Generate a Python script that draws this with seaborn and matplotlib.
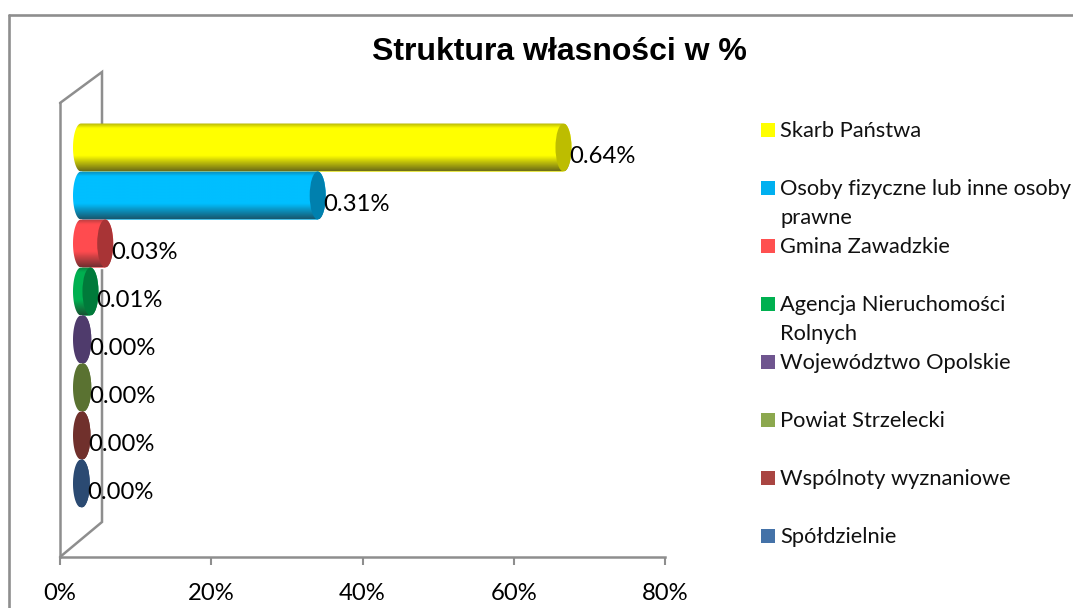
import numpy as np
import pandas as pd
import matplotlib
matplotlib.use('Agg')
import matplotlib.pyplot as plt
import seaborn as sns
from matplotlib.colors import LinearSegmentedColormap
from matplotlib.lines import Line2D
from matplotlib.patches import Ellipse, PathPatch, Rectangle
from matplotlib.path import Path

# data
categories = ['Skarb Państwa', 'Osoby fizyczne lub inne osoby\nprawne', 'Gmina Zawadzkie',
              'Agencja Nieruchomości\nRolnych', 'Województwo Opolskie', 'Powiat Strzelecki',
              'Wspólnoty wyznaniowe', 'Spółdzielnie']
shares = [63.8, 31.3, 3.2, 1.25, 0.3, 0.3, 0.2, 0.1]
value_labels = ['0.64%', '0.31%', '0.03%', '0.01%', '0.00%', '0.00%', '0.00%', '0.00%']
legend_colors = ['#FFFF00', '#00B0F0', '#FF5050', '#00B050', '#6F558F', '#8CA84E', '#A94542', '#4472A8']
body_colors = ['#FFFF00', '#00BFFF', '#FF4B4F', '#00B050', '#4F3B6C', '#5A7231', '#70302C', '#2B4A72']
cap_colors = ['#BDBD00', '#0080AE', '#A83436', '#007A3A', '#4F3B6C', '#5A7231', '#70302C', '#2B4A72']
tick_values = [0, 20, 40, 60, 80]
tick_labels = ['0%', '20%', '40%', '60%', '80%']
title = 'Struktura własności w %'

W, H = 1073, 608
GREY = '#8E8E8E'
sns.set_theme(style='white')
plt.rcParams['font.family'] = ['Lato', 'DejaVu Sans']


def fx(x):
    return x / W


def fy(y):
    return 1 - y / H


def box(left, top, right, bottom):
    return [fx(left), fy(bottom), (right - left) / W, (bottom - top) / H]


def wall(xs, ys, lw=2):
    fig.add_artist(Line2D([fx(x) for x in xs], [fy(y) for y in ys], color=GREY, lw=lw, zorder=0.5,
                          solid_joinstyle='miter'))


fig = plt.figure(figsize=(W / 100, H / 100), dpi=100, facecolor='white')

# chart frame runs off the right and bottom edges
wall([9, 9], [H + 5, 15], lw=1.9)
wall([9, W + 5], [15, 15], lw=1.9)

# front plane with the axis
floor = fig.add_axes(box(60, 103, 665, 557), facecolor='none', zorder=1)
floor.set_xlim(0, 80)
floor.set_yticks([])
floor.set_xticks(tick_values, tick_labels)
floor.tick_params(axis='x', length=6, width=1.5, color=GREY, pad=13, labelsize=17.2, labelcolor='black', bottom=True)
for name, spine in floor.spines.items():
    spine.set_visible(name in ('left', 'bottom'))
    spine.set_color(GREY)
    spine.set_linewidth(1.8)

# side wall
wall([60, 102, 102, 60], [103, 72, 522, 557], lw=1.8)

# bars sit half way into the depth, axes starts a bit left of zero for the round ends
px_per_unit = 605 / 80
ax = fig.add_axes(box(81 - 2 * px_per_unit, 123.5, 686, 507.5), facecolor='none', zorder=2)
df = pd.DataFrame({'category': categories, 'share': shares})
sns.barplot(data=df, x='share', y='category', hue='category', palette=body_colors, legend=False,
            width=1.0, orient='h', ax=ax, zorder=2)
ax.axis('off')

hw = 8 / px_per_unit
theta = np.linspace(np.pi / 2, 3 * np.pi / 2, 40)
bars = sorted(ax.patches, key=lambda p: p.get_y())
for i, bar in enumerate(bars):
    x1 = bar.get_width()
    y0, y1 = bar.get_y(), bar.get_y() + bar.get_height()
    yc, ry = (y0 + y1) / 2, (y1 - y0) / 2
    left_end = np.column_stack([hw * np.cos(theta), yc - ry * np.sin(theta)])
    right_end = np.column_stack([x1 - hw * np.cos(theta), yc + ry * np.sin(theta)])
    outline = np.vstack([left_end, right_end, left_end[:1]])
    patch = PathPatch(Path(outline), fc='none', ec='none', zorder=3)
    ax.add_patch(patch)

    base = body_colors[i]
    if i < 4:
        shade = LinearSegmentedColormap.from_list('s', [(0, sns.dark_palette(base, 4)[2]), (0.1, base), (0.68, base),
                                                        (1, sns.dark_palette(base, 4)[1])])
    else:
        shade = LinearSegmentedColormap.from_list('s', [base, base])
    ax.imshow(np.linspace(0, 1, 64).reshape(-1, 1), cmap=shade, aspect='auto', zorder=3,
              extent=(-hw, x1 + hw, y1, y0), clip_path=patch, interpolation='bilinear')
    ax.add_patch(Ellipse((x1, yc), 2 * hw, 2 * ry, fc=cap_colors[i], ec='none', zorder=4))
    ax.annotate(value_labels[i], (x1 + hw, yc), xytext=(-1.5, -6.3), textcoords='offset points', ha='left', va='center',
                fontsize=17.2, color='black', zorder=5, annotation_clip=False)

ax.set_xlim(-2, 80)
ax.set_ylim(7.5, -0.5)

fig.text(fx(559), fy(52), title, ha='center', va='center', fontsize=23.0, fontweight='bold',
         family='Liberation Sans', color='black')

# legend entries keep an even step, wrapped names run into the gap
for i, name in enumerate(categories):
    y = 130 + i * 58
    fig.add_artist(Rectangle((fx(761), fy(y + 7)), 14 / W, 14 / H, fc=legend_colors[i], ec='none',
                             transform=fig.transFigure))
    fig.text(fx(780), fy(y - 9), name, ha='left', va='top', fontsize=15.75, color='#111111', linespacing=1.55)

fig.savefig('out.png', dpi=100)
